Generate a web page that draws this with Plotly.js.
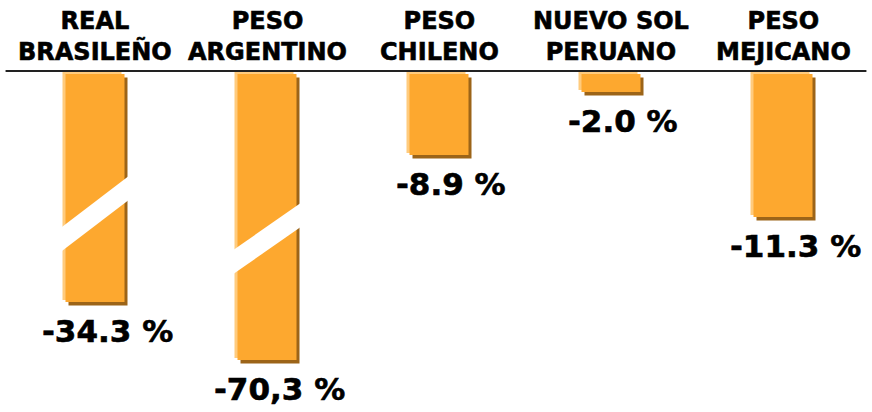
<!DOCTYPE html>
<html>
<head>
<meta charset="utf-8">
<script src="https://cdn.plot.ly/plotly-3.0.1.min.js"></script>
<style>
html,body{margin:0;padding:0;background:#fff;}
#chart{width:872px;height:412px;}
#chart .annotation-text{stroke:#000;stroke-width:0.6px;}
</style>
</head>
<body>
<div id="chart"></div>
<script>
// Categories (currency names) and their depreciation values
var categories = ["REAL<br>BRASILEÑO", "PESO<br>ARGENTINO", "PESO<br>CHILENO", "NUEVO SOL<br>PERUANO", "PESO<br>MEJICANO"];
var values = [-34.3, -70.3, -8.9, -2.0, -11.3];
var valueLabels = ["-34.3 %", "-70,3 %", "-8.9 %", "-2.0 %", "-11.3 %"];
// Bar lengths as drawn in the picture (the original is not to scale; the two largest bars are broken)
var drawnLengths = [-22.8, -28.6, -8.1, -1.8, -14.3];
var brokenBars = [0, 1];

var idx = categories.map(function(_, i){ return i; });
var W = 0.343, px = 1/172;

var main = '#FDA82F', light = '#FFCB7D', dark = '#9C6418';

var highlight = {type:'bar', x: idx, y: drawnLengths, base: drawnLengths.map(function(){return 0.2;}),
  width: W, offset: -W/2 - 3*px, marker:{color: light}, hoverinfo:'skip'};
var shadow = {type:'bar', x: idx, y: drawnLengths, base: drawnLengths.map(function(){return -0.35;}),
  width: W, offset: -W/2 + 3*px, marker:{color: dark}, hoverinfo:'skip'};
var bars = {type:'bar', x: idx, y: drawnLengths, base: drawnLengths.map(function(){return 0;}),
  width: W, offset: -W/2, marker:{color: main}, customdata: values, hovertemplate:'%{customdata}<extra></extra>'};

var annotations = [];
categories.forEach(function(c, i){
  annotations.push({x: i, y: 1, xref:'x', yref:'paper', yanchor:'bottom', text: c, showarrow:false,
    yshift: 2, font:{family:'DejaVu Sans, Verdana, sans-serif', size:24, color:'#000', weight:'bold'}});
  annotations.push({x: i, y: drawnLengths[i], xref:'x', yref:'y', yanchor:'middle', text: '<b>'+valueLabels[i]+'</b>',
    showarrow:false, xshift: 12, yshift: -29, font:{family:'DejaVu Sans, Verdana, sans-serif', size:31, color:'#000'}});
});

var shapes = [{type:'line', xref:'paper', yref:'y', x0:-0.004, x1:0.997, y0:0.3, y1:0.3, line:{color:'#222', width:2}}];
// white diagonal break marks on the broken bars
var breakMid = [[-16.6, -11.35], [-18.85, -14.05]];
brokenBars.forEach(function(b, k){
  var xl = b - 0.2, xr = b + 0.2, yl = breakMid[k][0], yr = breakMid[k][1], t = 1.2;
  shapes.push({type:'path', xref:'x', yref:'y', layer:'above',
    path: 'M'+xl+','+(yl+t)+' L'+xr+','+(yr+t)+' L'+xr+','+(yr-t)+' L'+xl+','+(yl-t)+' Z',
    fillcolor:'#fff', line:{width:0}});
});

var layout = {
  width: 872, height: 412,
  margin: {l: 9, r: 3, t: 70, b: 0},
  paper_bgcolor:'#fff', plot_bgcolor:'#fff',
  barmode:'overlay', showlegend:false,
  xaxis: {type:'linear', range:[-0.5, 4.5], visible:false, fixedrange:true},
  yaxis: {range:[-33.8, 0.4], visible:false, fixedrange:true},
  annotations: annotations,
  shapes: shapes
};

Plotly.newPlot('chart', [shadow, highlight, bars], layout, {displayModeBar:false, staticPlot:true});
</script>
</body>
</html>
